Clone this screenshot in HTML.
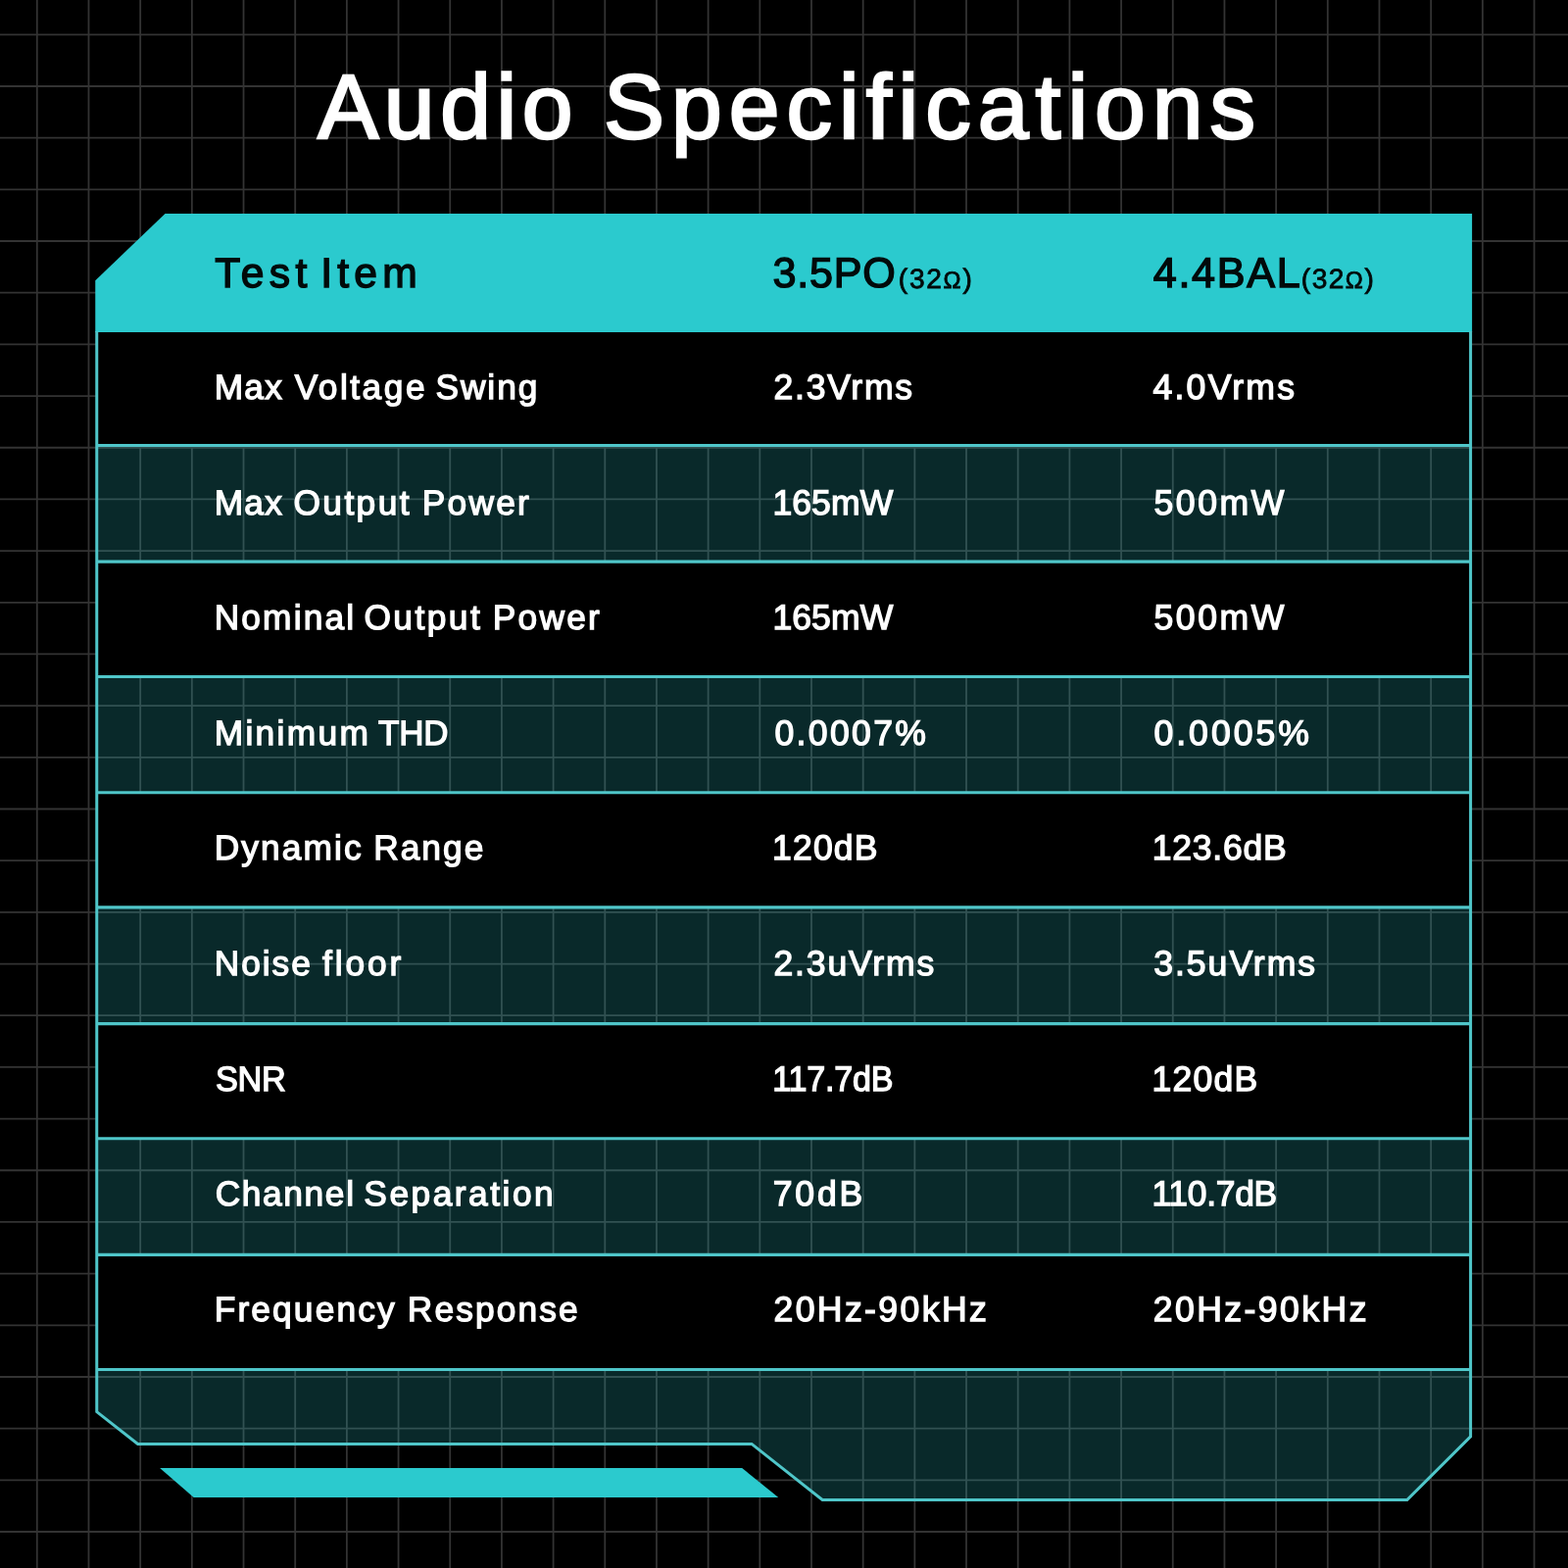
<!DOCTYPE html>
<html lang="en">
<head>
<meta charset="utf-8">
<title>Audio Specifications</title>
<style>
html,body{margin:0;padding:0;background:#000;}
body{width:1600px;height:1600px;overflow:hidden;position:relative;font-family:"Liberation Sans",sans-serif;}
.bg{position:absolute;left:0;top:0;display:block;}
.t{position:absolute;left:0;width:1600px;height:0;margin:0;padding:0;font-weight:400;font-kerning:normal;white-space:nowrap;text-rendering:geometricPrecision;}
.w{position:absolute;top:0;white-space:nowrap;transform-origin:0 0;}
.title{color:#fff;-webkit-text-stroke:2.6px #fff;}
.td{color:#fff;-webkit-text-stroke:1.3px #fff;}
.td.val{-webkit-text-stroke-width:1.3px;}
.th{color:#020a0a;-webkit-text-stroke:1.45px #020a0a;}
.th.lite{-webkit-text-stroke-width:1.4px;}
.th.sub{-webkit-text-stroke-width:0.8px;}
.th.sub i{font-style:normal;font-size:0.86em;}
</style>
</head>
<body>
<svg class="bg" width="1600" height="1600" viewBox="0 0 1600 1600" aria-hidden="true">
<rect width="1600" height="1600" fill="#000"/>
<g stroke="#333333" stroke-width="1.8">
<line x1="37.80" y1="0" x2="37.80" y2="1600"/>
<line x1="90.48" y1="0" x2="90.48" y2="1600"/>
<line x1="143.16" y1="0" x2="143.16" y2="1600"/>
<line x1="195.84" y1="0" x2="195.84" y2="1600"/>
<line x1="248.52" y1="0" x2="248.52" y2="1600"/>
<line x1="301.20" y1="0" x2="301.20" y2="1600"/>
<line x1="353.88" y1="0" x2="353.88" y2="1600"/>
<line x1="406.56" y1="0" x2="406.56" y2="1600"/>
<line x1="459.24" y1="0" x2="459.24" y2="1600"/>
<line x1="511.92" y1="0" x2="511.92" y2="1600"/>
<line x1="564.60" y1="0" x2="564.60" y2="1600"/>
<line x1="617.28" y1="0" x2="617.28" y2="1600"/>
<line x1="669.96" y1="0" x2="669.96" y2="1600"/>
<line x1="722.64" y1="0" x2="722.64" y2="1600"/>
<line x1="775.32" y1="0" x2="775.32" y2="1600"/>
<line x1="828.00" y1="0" x2="828.00" y2="1600"/>
<line x1="880.68" y1="0" x2="880.68" y2="1600"/>
<line x1="933.36" y1="0" x2="933.36" y2="1600"/>
<line x1="986.04" y1="0" x2="986.04" y2="1600"/>
<line x1="1038.72" y1="0" x2="1038.72" y2="1600"/>
<line x1="1091.40" y1="0" x2="1091.40" y2="1600"/>
<line x1="1144.08" y1="0" x2="1144.08" y2="1600"/>
<line x1="1196.76" y1="0" x2="1196.76" y2="1600"/>
<line x1="1249.44" y1="0" x2="1249.44" y2="1600"/>
<line x1="1302.12" y1="0" x2="1302.12" y2="1600"/>
<line x1="1354.80" y1="0" x2="1354.80" y2="1600"/>
<line x1="1407.48" y1="0" x2="1407.48" y2="1600"/>
<line x1="1460.16" y1="0" x2="1460.16" y2="1600"/>
<line x1="1512.84" y1="0" x2="1512.84" y2="1600"/>
<line x1="1565.52" y1="0" x2="1565.52" y2="1600"/>
<line x1="0" y1="35.30" x2="1600" y2="35.30"/>
<line x1="0" y1="87.98" x2="1600" y2="87.98"/>
<line x1="0" y1="140.66" x2="1600" y2="140.66"/>
<line x1="0" y1="193.34" x2="1600" y2="193.34"/>
<line x1="0" y1="246.02" x2="1600" y2="246.02"/>
<line x1="0" y1="298.70" x2="1600" y2="298.70"/>
<line x1="0" y1="351.38" x2="1600" y2="351.38"/>
<line x1="0" y1="404.06" x2="1600" y2="404.06"/>
<line x1="0" y1="456.74" x2="1600" y2="456.74"/>
<line x1="0" y1="509.42" x2="1600" y2="509.42"/>
<line x1="0" y1="562.10" x2="1600" y2="562.10"/>
<line x1="0" y1="614.78" x2="1600" y2="614.78"/>
<line x1="0" y1="667.46" x2="1600" y2="667.46"/>
<line x1="0" y1="720.14" x2="1600" y2="720.14"/>
<line x1="0" y1="772.82" x2="1600" y2="772.82"/>
<line x1="0" y1="825.50" x2="1600" y2="825.50"/>
<line x1="0" y1="878.18" x2="1600" y2="878.18"/>
<line x1="0" y1="930.86" x2="1600" y2="930.86"/>
<line x1="0" y1="983.54" x2="1600" y2="983.54"/>
<line x1="0" y1="1036.22" x2="1600" y2="1036.22"/>
<line x1="0" y1="1088.90" x2="1600" y2="1088.90"/>
<line x1="0" y1="1141.58" x2="1600" y2="1141.58"/>
<line x1="0" y1="1194.26" x2="1600" y2="1194.26"/>
<line x1="0" y1="1246.94" x2="1600" y2="1246.94"/>
<line x1="0" y1="1299.62" x2="1600" y2="1299.62"/>
<line x1="0" y1="1352.30" x2="1600" y2="1352.30"/>
<line x1="0" y1="1404.98" x2="1600" y2="1404.98"/>
<line x1="0" y1="1457.66" x2="1600" y2="1457.66"/>
<line x1="0" y1="1510.34" x2="1600" y2="1510.34"/>
<line x1="0" y1="1563.02" x2="1600" y2="1563.02"/>
</g>
<polygon points="98.75,338.00 98.75,1440.60 140.60,1473.40 767.00,1473.40 839.20,1530.50 1435.80,1530.50 1500.60,1465.80 1500.60,338.00" fill="#2bcace" fill-opacity="0.205"/>
<rect x="98.75" y="339.00" width="1401.85" height="115.50" fill="#000"/>
<rect x="98.75" y="573.10" width="1401.85" height="117.40" fill="#000"/>
<rect x="98.75" y="808.80" width="1401.85" height="117.10" fill="#000"/>
<rect x="98.75" y="1044.60" width="1401.85" height="117.20" fill="#000"/>
<rect x="98.75" y="1280.40" width="1401.85" height="117.10" fill="#000"/>
<polygon points="97.25,339.00 97.25,286.20 168.50,218.00 1502.10,218.00 1502.10,339.00" fill="#2bcace"/>
<polyline points="98.75,338.00 98.75,1440.60 140.60,1473.40 767.00,1473.40 839.20,1530.50 1435.80,1530.50 1500.60,1465.80 1500.60,338.00" fill="none" stroke="#4fc6c9" stroke-width="3.0" stroke-linejoin="miter"/>
<line x1="98.75" y1="454.50" x2="1500.60" y2="454.50" stroke="#4fc6c9" stroke-width="3.1"/>
<line x1="98.75" y1="573.10" x2="1500.60" y2="573.10" stroke="#4fc6c9" stroke-width="3.1"/>
<line x1="98.75" y1="690.50" x2="1500.60" y2="690.50" stroke="#4fc6c9" stroke-width="3.1"/>
<line x1="98.75" y1="808.80" x2="1500.60" y2="808.80" stroke="#4fc6c9" stroke-width="3.1"/>
<line x1="98.75" y1="925.90" x2="1500.60" y2="925.90" stroke="#4fc6c9" stroke-width="3.1"/>
<line x1="98.75" y1="1044.60" x2="1500.60" y2="1044.60" stroke="#4fc6c9" stroke-width="3.1"/>
<line x1="98.75" y1="1161.80" x2="1500.60" y2="1161.80" stroke="#4fc6c9" stroke-width="3.1"/>
<line x1="98.75" y1="1280.40" x2="1500.60" y2="1280.40" stroke="#4fc6c9" stroke-width="3.1"/>
<line x1="98.75" y1="1397.50" x2="1500.60" y2="1397.50" stroke="#4fc6c9" stroke-width="3.1"/>
<polygon points="163.1,1498.1 757.2,1498.1 794.2,1527.9 197.6,1527.9" fill="#2bcace"/>
</svg>
<h1 class="t title" style="top:53.88px;font-size:93.0px;line-height:111.6px"><span class="w" id="title_0" style="left:324.25px;letter-spacing:5.575px">Audio</span> <span class="w" id="title_1" style="left:616.00px;letter-spacing:7.019px">Specifications</span></h1>
<div class="table" role="table">
<div class="tr head" role="row">
<span class="t th" role="columnheader" style="top:253.68px;font-size:42.6px;line-height:51.12px"><span class="w" id="h0_0" style="left:219.15px;letter-spacing:5.333px">Test</span> <span class="w" id="h0_1" style="left:327.20px;letter-spacing:5.217px">Item</span></span>
<span role="columnheader"><span class="t th lite" style="top:254.21px;font-size:43.1px;line-height:51.72px"><span class="w" id="h1_0" style="left:788.45px;letter-spacing:0.762px">3.5PO</span></span><span class="t th sub" style="top:268.40px;font-size:28.1px;line-height:33.72px"><span class="w" id="h1s_0" style="left:916.85px;letter-spacing:1.712px">(32<i>Ω</i>)</span></span></span>
<span role="columnheader"><span class="t th lite" style="top:254.21px;font-size:43.1px;line-height:51.72px"><span class="w" id="h2_0" style="left:1176.75px;letter-spacing:1.700px">4.4BAL</span></span><span class="t th sub" style="top:268.40px;font-size:28.1px;line-height:33.72px"><span class="w" id="h2s_0" style="left:1327.85px;letter-spacing:1.462px">(32<i>Ω</i>)</span></span></span>
</div>
<div class="tr" role="row">
<span class="t td lab" role="cell" style="top:375.09px;font-size:35.3px;line-height:42.36px"><span class="w" id="r0c0_0" style="left:218.70px;letter-spacing:1.225px">Max</span> <span class="w" id="r0c0_1" style="left:300.75px;letter-spacing:2.500px">Voltage</span> <span class="w" id="r0c0_2" style="left:444.40px;letter-spacing:1.975px">Swing</span></span>
<span class="t td val" role="cell" style="top:374.00px;font-size:35.6px;line-height:42.72px"><span class="w" id="r0c1_0" style="left:789.50px;letter-spacing:1.750px">2.3Vrms</span></span>
<span class="t td val" role="cell" style="top:374.00px;font-size:35.6px;line-height:42.72px"><span class="w" id="r0c2_0" style="left:1176.50px;letter-spacing:2.225px">4.0Vrms</span></span>
</div>
<div class="tr" role="row">
<span class="t td lab" role="cell" style="top:492.69px;font-size:35.3px;line-height:42.36px"><span class="w" id="r1c0_0" style="left:218.70px;letter-spacing:1.225px">Max</span> <span class="w" id="r1c0_1" style="left:299.50px;letter-spacing:2.410px">Output</span> <span class="w" id="r1c0_2" style="left:430.75px;letter-spacing:2.250px">Power</span></span>
<span class="t td val" role="cell" style="top:491.60px;font-size:35.6px;line-height:42.72px"><span class="w" id="r1c1_0" style="left:788.45px;letter-spacing:0.050px">165mW</span></span>
<span class="t td val" role="cell" style="top:491.60px;font-size:35.6px;line-height:42.72px"><span class="w" id="r1c2_0" style="left:1177.50px;letter-spacing:2.562px">500mW</span></span>
</div>
<div class="tr" role="row">
<span class="t td lab" role="cell" style="top:610.29px;font-size:35.3px;line-height:42.36px"><span class="w" id="r2c0_0" style="left:218.70px;letter-spacing:2.158px">Nominal</span> <span class="w" id="r2c0_1" style="left:371.45px;letter-spacing:2.470px">Output</span> <span class="w" id="r2c0_2" style="left:502.75px;letter-spacing:2.250px">Power</span></span>
<span class="t td val" role="cell" style="top:609.20px;font-size:35.6px;line-height:42.72px"><span class="w" id="r2c1_0" style="left:788.45px;letter-spacing:0.050px">165mW</span></span>
<span class="t td val" role="cell" style="top:609.20px;font-size:35.6px;line-height:42.72px"><span class="w" id="r2c2_0" style="left:1177.50px;letter-spacing:2.562px">500mW</span></span>
</div>
<div class="tr" role="row">
<span class="t td lab" role="cell" style="top:727.89px;font-size:35.3px;line-height:42.36px"><span class="w" id="r3c0_0" style="left:218.70px;letter-spacing:2.325px">Minimum</span> <span class="w" id="r3c0_1" style="left:386.00px;letter-spacing:-0.250px;transform:translateX(0.10px) scaleX(0.9905)">THD</span></span>
<span class="t td val" role="cell" style="top:726.80px;font-size:35.6px;line-height:42.72px"><span class="w" id="r3c1_0" style="left:790.50px;letter-spacing:2.333px">0.0007%</span></span>
<span class="t td val" role="cell" style="top:726.80px;font-size:35.6px;line-height:42.72px"><span class="w" id="r3c2_0" style="left:1177.50px;letter-spacing:2.975px">0.0005%</span></span>
</div>
<div class="tr" role="row">
<span class="t td lab" role="cell" style="top:845.49px;font-size:35.3px;line-height:42.36px"><span class="w" id="r4c0_0" style="left:218.70px;letter-spacing:2.117px">Dynamic</span> <span class="w" id="r4c0_1" style="left:381.15px;letter-spacing:2.037px">Range</span></span>
<span class="t td val" role="cell" style="top:844.40px;font-size:35.6px;line-height:42.72px"><span class="w" id="r4c1_0" style="left:788.10px;letter-spacing:1.112px">120dB</span></span>
<span class="t td val" role="cell" style="top:844.40px;font-size:35.6px;line-height:42.72px"><span class="w" id="r4c2_0" style="left:1175.65px;letter-spacing:0.775px">123.6dB</span></span>
</div>
<div class="tr" role="row">
<span class="t td lab" role="cell" style="top:963.09px;font-size:35.3px;line-height:42.36px"><span class="w" id="r5c0_0" style="left:218.70px;letter-spacing:1.987px">Noise</span> <span class="w" id="r5c0_1" style="left:329.00px;letter-spacing:2.900px">floor</span></span>
<span class="t td val" role="cell" style="top:962.00px;font-size:35.6px;line-height:42.72px"><span class="w" id="r5c1_0" style="left:789.50px;letter-spacing:1.821px">2.3uVrms</span></span>
<span class="t td val" role="cell" style="top:962.00px;font-size:35.6px;line-height:42.72px"><span class="w" id="r5c2_0" style="left:1177.15px;letter-spacing:2.007px">3.5uVrms</span></span>
</div>
<div class="tr" role="row">
<span class="t td lab" role="cell" style="top:1080.69px;font-size:35.3px;line-height:42.36px"><span class="w" id="r6c0_0" style="left:219.00px;letter-spacing:-0.250px;transform:translateX(0.95px) scaleX(0.9714)">SNR</span></span>
<span class="t td val" role="cell" style="top:1079.60px;font-size:35.6px;line-height:42.72px"><span class="w" id="r6c1_0" style="left:788.00px;letter-spacing:-0.250px;transform:translateX(0.35px) scaleX(0.9580)">117.7dB</span></span>
<span class="t td val" role="cell" style="top:1079.60px;font-size:35.6px;line-height:42.72px"><span class="w" id="r6c2_0" style="left:1175.50px;letter-spacing:1.225px">120dB</span></span>
</div>
<div class="tr" role="row">
<span class="t td lab" role="cell" style="top:1198.29px;font-size:35.3px;line-height:42.36px"><span class="w" id="r7c0_0" style="left:219.70px;letter-spacing:1.633px">Channel</span> <span class="w" id="r7c0_1" style="left:371.35px;letter-spacing:2.511px">Separation</span></span>
<span class="t td val" role="cell" style="top:1197.20px;font-size:35.6px;line-height:42.72px"><span class="w" id="r7c1_0" style="left:788.70px;letter-spacing:2.817px">70dB</span></span>
<span class="t td val" role="cell" style="top:1197.20px;font-size:35.6px;line-height:42.72px"><span class="w" id="r7c2_0" style="left:1175.00px;letter-spacing:-0.250px;transform:translateX(0.50px) scaleX(0.9940)">110.7dB</span></span>
</div>
<div class="tr" role="row">
<span class="t td lab" role="cell" style="top:1315.89px;font-size:35.3px;line-height:42.36px"><span class="w" id="r8c0_0" style="left:218.70px;letter-spacing:2.150px">Frequency</span> <span class="w" id="r8c0_1" style="left:415.75px;letter-spacing:2.136px">Response</span></span>
<span class="t td val" role="cell" style="top:1314.80px;font-size:35.6px;line-height:42.72px"><span class="w" id="r8c1_0" style="left:789.50px;letter-spacing:2.389px">20Hz-90kHz</span></span>
<span class="t td val" role="cell" style="top:1314.80px;font-size:35.6px;line-height:42.72px"><span class="w" id="r8c2_0" style="left:1176.65px;letter-spacing:2.461px">20Hz-90kHz</span></span>
</div>
</div>
</body>
</html>
